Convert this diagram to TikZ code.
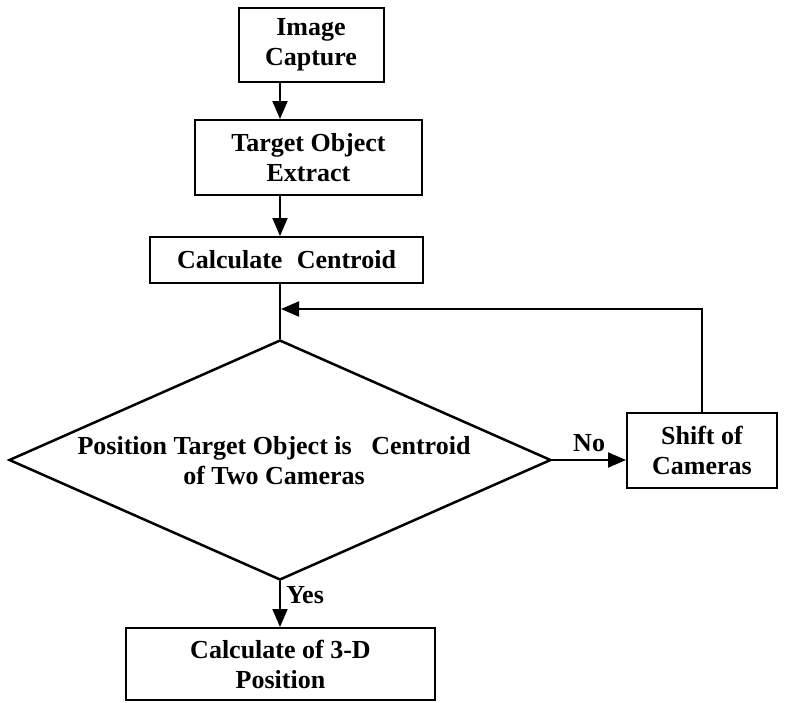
\documentclass[tikz,border=0pt]{standalone}
\usepackage{fontspec}
\setmainfont{Liberation Serif}
\usetikzlibrary{shapes.geometric,arrows.meta}
\begin{document}
\begin{tikzpicture}[x=1pt,y=-1pt,
  txt/.style={font=\fontsize{26}{30}\selectfont\bfseries},
  box/.style={draw,line width=2pt,inner sep=0pt,align=center,txt},
  arr/.style={line width=2pt,-{Triangle[length=18pt,width=15pt]}},
  lab/.style={txt}]
\useasboundingbox (0,0) rectangle (789,702);
\coordinate (axis) at (280,0);
\node[box,minimum width=145pt,minimum height=74pt] (cap) at (311,45) {Image\\Capture};
\node[box,minimum width=227pt,minimum height=75pt] (tgt) at (308.5,157.5) {Target Object\\Extract};
\node[box,minimum width=273pt,minimum height=46pt] (cen) at (286.5,260) {Calculate\hspace{0.3em} Centroid};
\node[draw,diamond,line width=2.5pt,minimum width=542pt,minimum height=240pt,inner sep=0pt] (dia) at (280,460) {};
\node[align=center,txt] (dtext) at (274,461) {Position Target Object is\hspace{0.5em} Centroid\\of Two Cameras};
\node[box,minimum width=150pt,minimum height=75pt] (shift) at (702,450.5) {Shift of\\Cameras};
\node[box,minimum width=309pt,minimum height=72pt] (pos) at (280.5,664) {Calculate of 3-D\\Position};
\coordinate (j) at (281,309);
\draw[arr] (cap.south -| axis) -- (tgt.north -| axis);
\draw[arr] (tgt.south -| axis) -- (cen.north -| axis);
\draw[line width=2pt] (cen.south -| axis) -- (dia.north);
\draw[arr] (shift.north) |- (j);
\draw[arr] (dia.east) -- (dia.east -| shift.west) node[lab,midway,above=4pt] (no) {No};
\draw[arr] (dia.south) -- (pos.north -| dia.south) node[lab,pos=0.3,right=2pt] (yes) {Yes};
\end{tikzpicture}
\end{document}
